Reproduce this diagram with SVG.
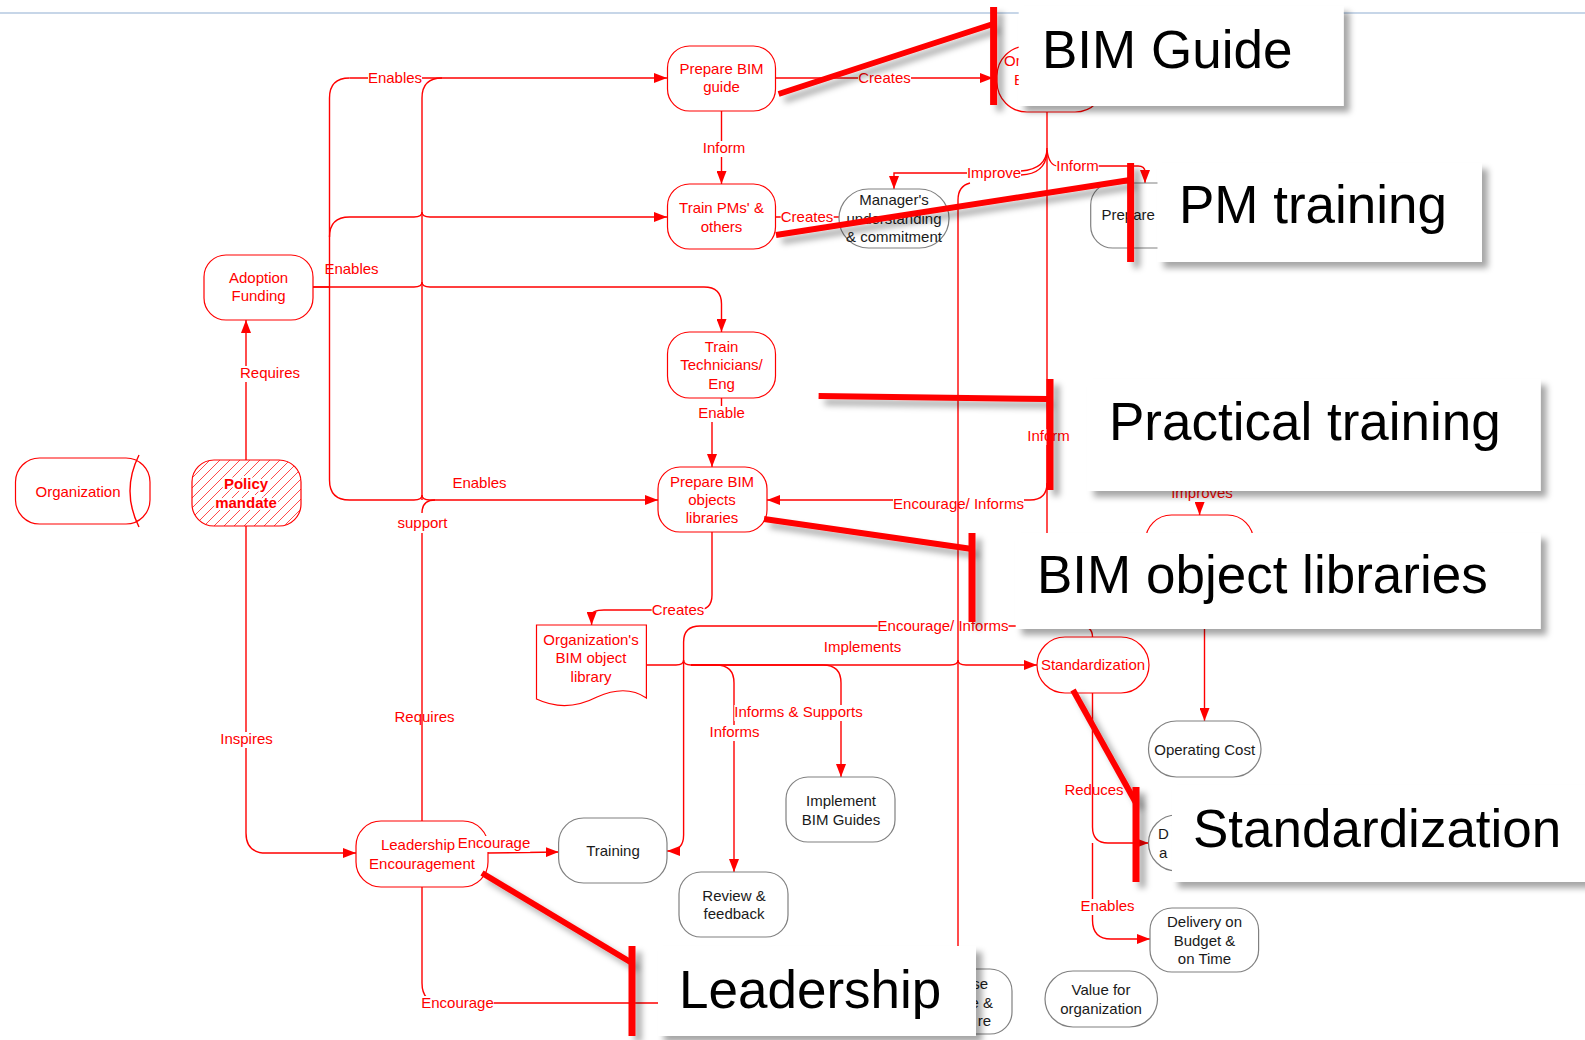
<svg xmlns="http://www.w3.org/2000/svg" width="1585" height="1040" viewBox="0 0 1585 1040">
<defs>
<style>
.c{fill:none;stroke:#f00;stroke-width:1.4}
.n{fill:#fff;stroke:#f00;stroke-width:1.2}
.g{fill:#fff;stroke:#808080;stroke-width:1.2}
.t{font-family:"Liberation Sans",Arial,sans-serif;font-size:15px;fill:#f00;text-anchor:middle}
.k{fill:#1a1a1a}
.s{text-anchor:start}
.e{text-anchor:end}
.lbg{fill:#fff;stroke:none}
.rl{stroke:#f00;stroke-width:6;fill:none}
.rb{stroke:#f00;stroke-width:7;fill:none}
.box{fill:#fff}
.ct{font-family:"Liberation Sans",Arial,sans-serif;font-size:53px;fill:#000}
.sh{filter:url(#sh)}
</style>
<filter id="sh" filterUnits="userSpaceOnUse" x="0" y="0" width="1585" height="1040"><feDropShadow dx="6" dy="6" stdDeviation="3" flood-color="#000" flood-opacity="0.35"/></filter>
<marker id="ar" viewBox="0 0 13 10" refX="13" refY="5" markerWidth="13" markerHeight="10" markerUnits="userSpaceOnUse" orient="auto"><path d="M0,0 L13,5 L0,10 z" fill="#f00"/></marker>
<pattern id="hatch" patternUnits="userSpaceOnUse" width="10" height="10"><path d="M-2,2 L2,-2 M0,10 L10,0 M8,12 L12,8" stroke="#ff4a4a" stroke-width="1"/></pattern>
</defs>
<rect width="1585" height="1040" fill="#fff"/>
<line x1="0" y1="13" x2="1585" y2="13" stroke="#b4c8e0" stroke-width="1.5"/>

<g id="connectors">
<path class="c" d="M313,287 H329.5"/>
<path class="c" d="M349.5,78 H667" marker-end="url(#ar)"/>
<path class="c" d="M422,500 V98 Q422,78 442,78"/>
<path class="c" d="M329.5,237 Q329.5,217 349.5,217 H414 Q422,217 422,212 Q422,217 430,217 H667" marker-end="url(#ar)"/>
<path class="c" d="M313,287 H414 Q422,287 422,282 Q422,287 430,287 H704 Q721.5,287 721.5,304 V332" marker-end="url(#ar)"/>
<path class="c" d="M329.5,480 Q329.5,500 349.5,500 H414 Q422,500 422,495 Q422,500 430,500 H658" marker-end="url(#ar)"/>
<path class="c" d="M422,513 Q422,500 435,500"/>
<path class="c" d="M246,460 V320" marker-end="url(#ar)"/>
<path class="c" d="M246,526 V833 Q246,853 266,853 H356" marker-end="url(#ar)"/>
<path class="c" d="M775.7,78 H993" marker-end="url(#ar)"/>
<path class="c" d="M721.5,111 V184" marker-end="url(#ar)"/>
<path class="c" d="M775.7,217 H839"/>
<path class="c" d="M721.5,398 V413 H712 V467" marker-end="url(#ar)"/>
<path class="c" d="M1047,112 V620"/>
<path class="c" d="M1047,483 Q1047,500 1030,500 H767" marker-end="url(#ar)"/>
<path class="c" d="M712,532 V595 Q712,610 697,610 H604 Q591.6,610 591.6,616 V625" marker-end="url(#ar)"/>
<path class="c" d="M646.4,665 H676 Q683.6,665 683.6,660 Q683.6,665 691,665 H950 Q958,665 958,660 Q958,665 966,665 H1037" marker-end="url(#ar)"/>
<path class="c" d="M691,665 H716 Q734,665 734,683 V872" marker-end="url(#ar)"/>
<path class="c" d="M691,665 H823 Q841,665 841,683 V777" marker-end="url(#ar)"/>
<path class="c" d="M1092.5,637 Q1092.5,626 1080,626 H700 Q683.6,626 683.6,642 V835 Q683.6,851 668,851 H667" marker-end="url(#ar)"/>
<path class="c" d="M488,853 L558.6,852" marker-end="url(#ar)"/>
<path class="c" d="M422,887 V983 Q422,1003 442,1003 H905" marker-end="url(#ar)"/>
<path class="c" d="M967,173 H894 V189" marker-end="url(#ar)"/>
<path class="c" d="M1047,148 Q1047,169 1021,171"/>
<path class="c" d="M1047,153 Q1045,174 1021,175"/>
<path class="c" d="M1047,150 Q1049,166 1058,166 H1138 Q1145,166 1145,172 V183" marker-end="url(#ar)"/>
<path class="c" d="M1199.6,480 V515" marker-end="url(#ar)"/>
<path class="c" d="M1204.5,580 V721" marker-end="url(#ar)"/>
<path class="c" d="M1092.5,693 V827 Q1092.5,843 1108,843 H1148.5" marker-end="url(#ar)"/>
<path class="c" d="M1092.5,843 V920 Q1092.5,939 1111,939 H1150" marker-end="url(#ar)"/>
</g>

<g id="organization"><rect class="n" x="15.5" y="458" width="134.5" height="66" rx="24"/><path class="c" d="M139,455 Q121,491 139,527" stroke-width="1.1"/><text class="t" x="78" y="497">Organization</text></g>
<g id="policy-mandate"><rect x="192" y="460" width="109" height="66" rx="22" fill="url(#hatch)" stroke="#f00" stroke-width="1.2"/><text class="t" x="246" y="489" font-weight="bold" stroke="#fff" stroke-width="4" paint-order="stroke">Policy</text><text class="t" x="246" y="508" font-weight="bold" stroke="#fff" stroke-width="4" paint-order="stroke">mandate</text></g>
<g id="adoption-funding"><rect class="n" x="204" y="255" width="109" height="65" rx="22"/><text class="t" x="258.6" y="283">Adoption</text><text class="t" x="258.6" y="301">Funding</text></g>
<g id="prepare-bim-guide"><rect class="n" x="667.5" y="46" width="108" height="65" rx="22"/><text class="t" x="721.5" y="74">Prepare BIM</text><text class="t" x="721.5" y="92">guide</text></g>
<g id="train-pms"><rect class="n" x="667.5" y="184" width="108" height="65" rx="22"/><text class="t" x="721.5" y="213">Train PMs' &amp;</text><text class="t" x="721.5" y="232">others</text></g>
<g id="train-technicians"><rect class="n" x="667.5" y="332" width="108" height="66" rx="22"/><text class="t" x="721.5" y="352">Train</text><text class="t" x="721.5" y="370">Technicians/</text><text class="t" x="721.5" y="389">Eng</text></g>
<g id="prepare-bim-objects"><rect class="n" x="658" y="467" width="109" height="65" rx="22"/><text class="t" x="712" y="487">Prepare BIM</text><text class="t" x="712" y="505">objects</text><text class="t" x="712" y="523">libraries</text></g>
<g id="org-bim-object-library"><path class="n" d="M536.5,625 H646.4 V698 Q626,684 597,697 Q566,713 536.5,699 Z"/><text class="t" x="591" y="645">Organization's</text><text class="t" x="591" y="663">BIM object</text><text class="t" x="591" y="682">library</text></g>
<g id="managers-understanding"><rect class="g" x="839" y="189" width="110" height="59" rx="29.5"/><text class="t k" x="894" y="205">Manager's</text><text class="t k" x="894" y="224">understanding</text><text class="t k" x="894" y="242">&amp; commitment</text></g>
<g id="org-bim-guide"><rect class="n" x="997" y="46" width="108" height="66" rx="30"/><text class="t s" x="1004" y="66">Or</text><text class="t s" x="1014" y="85">B</text></g>
<g id="prepare-node"><rect class="g" x="1090.7" y="183" width="108" height="65" rx="22"/><text class="t k s" x="1101.5" y="220">Prepare</text></g>
<g id="improves-target"><rect class="n" x="1145.5" y="515" width="108" height="65" rx="26"/></g>
<g id="standardization"><rect class="n" x="1037" y="637" width="112" height="56" rx="28"/><text class="t" x="1093" y="670">Standardization</text></g>
<g id="operating-cost"><rect class="g" x="1148.5" y="721" width="112.5" height="56" rx="28"/><text class="t k" x="1204.7" y="755">Operating Cost</text></g>
<g id="d-node"><rect class="g" x="1148.5" y="815" width="108" height="56" rx="28"/><text class="t k s" x="1158" y="839">D</text><text class="t k s" x="1159" y="858">a</text></g>
<g id="delivery"><rect class="g" x="1150" y="908" width="108.6" height="64" rx="22"/><text class="t k" x="1204.5" y="927">Delivery on</text><text class="t k" x="1204.5" y="946">Budget &amp;</text><text class="t k" x="1204.5" y="964">on Time</text></g>
<g id="value-for-organization"><rect class="g" x="1045" y="971" width="112.5" height="56" rx="28"/><text class="t k" x="1101" y="995">Value for</text><text class="t k" x="1101" y="1014">organization</text></g>
<g id="bottom-node"><rect class="g" x="905" y="969" width="107" height="65" rx="22"/><text class="t k e" x="988" y="989">se</text><text class="t k e" x="993" y="1008">e &amp;</text><text class="t k e" x="991" y="1026">re</text></g>
<g id="leadership-encouragement"><rect class="n" x="356" y="821" width="132" height="66" rx="25"/><text class="t" x="418" y="850">Leadership</text><text class="t" x="422" y="869">Encouragement</text></g>
<g id="training"><rect class="g" x="558.6" y="818" width="108.4" height="65" rx="25"/><text class="t k" x="613" y="856">Training</text></g>
<g id="implement-bim-guides"><rect class="g" x="786" y="777" width="109" height="65" rx="22"/><text class="t k" x="841" y="806">Implement</text><text class="t k" x="841" y="825">BIM Guides</text></g>
<g id="review-feedback"><rect class="g" x="679" y="872" width="109" height="65" rx="22"/><text class="t k" x="734" y="901">Review &amp;</text><text class="t k" x="734" y="919">feedback</text></g>

<g id="connector-labels">
<rect class="lbg" x="368" y="71" width="54" height="16"/><text class="t" x="395" y="83">Enables</text>
<text class="t" x="351.5" y="274">Enables</text>
<text class="t" x="479.5" y="488">Enables</text>
<rect class="lbg" x="397.5" y="516" width="50" height="16"/><text class="t" x="422.5" y="528">support</text>
<rect class="lbg" x="240" y="366" width="60" height="16"/><text class="t" x="270" y="378">Requires</text>
<rect class="lbg" x="220" y="732" width="53" height="16"/><text class="t" x="246.5" y="744">Inspires</text>
<text class="t" x="424.5" y="722">Requires</text>
<rect class="lbg" x="858" y="71" width="53" height="16"/><text class="t" x="884.5" y="83">Creates</text>
<rect class="lbg" x="702.7" y="141" width="42.5" height="16"/><text class="t" x="724" y="153">Inform</text>
<rect class="lbg" x="780.7" y="210" width="53" height="16"/><text class="t" x="807" y="222">Creates</text>
<rect class="lbg" x="698" y="406" width="47" height="16"/><text class="t" x="721.5" y="418">Enable</text>
<rect class="lbg" x="893" y="497" width="131" height="16"/><text class="t" x="958.5" y="509">Encourage/ Informs</text>
<rect class="lbg" x="651.7" y="603" width="53" height="16"/><text class="t" x="678" y="615">Creates</text>
<text class="t" x="862.5" y="652">Implements</text>
<rect class="lbg" x="734.3" y="705" width="128.4" height="16"/><text class="t" x="798.5" y="717">Informs &amp; Supports</text>
<rect class="lbg" x="709.5" y="725" width="50" height="16"/><text class="t" x="734.5" y="737">Informs</text>
<rect class="lbg" x="877.5" y="619" width="131" height="16"/><text class="t" x="943" y="631">Encourage/ Informs</text>
<rect class="lbg" x="457.7" y="836" width="72.5" height="16"/><text class="t" x="494" y="848">Encourage</text>
<rect class="lbg" x="421.2" y="996" width="72.5" height="16"/><text class="t" x="457.5" y="1008">Encourage</text>
<rect class="lbg" x="967" y="166" width="54" height="16"/><text class="t" x="994" y="178">Improve</text>
<rect class="lbg" x="1056.2" y="159" width="42.5" height="16"/><text class="t" x="1077.5" y="171">Inform</text>
<rect class="lbg" x="1027.2" y="429" width="42.5" height="16"/><text class="t" x="1048.5" y="441">Inform</text>
<rect class="lbg" x="1171" y="486" width="62" height="16"/><text class="t" x="1202" y="498">Improves</text>
<text class="t" x="1094" y="795">Reduces</text>
<rect class="lbg" x="1080.4" y="899" width="54" height="16"/><text class="t" x="1107.5" y="911">Enables</text>
</g>

<g id="connectors-over">
<path class="c" d="M329.5,480 V98 Q329.5,78 349.5,78"/>
<path class="c" d="M422,821 V533"/>
<path class="c" d="M958,969 V200 Q958,186 970,183"/>
</g>

<g id="callout-bim-guide">
<line class="rl sh" x1="778.6" y1="94" x2="993" y2="24"/>
<line class="rb sh" x1="993.6" y1="7" x2="993.6" y2="105"/>
<rect class="box sh" x="1018.7" y="6" width="325" height="100"/>
<text class="ct" x="1042" y="68">BIM Guide</text>
</g>
<g id="callout-pm-training">
<line class="rl sh" x1="776" y1="235" x2="1130" y2="180"/>
<line class="rb sh" x1="1130.6" y1="163" x2="1130.6" y2="262"/>
<rect class="box sh" x="1157.5" y="163" width="324.5" height="99"/>
<text class="ct" x="1179" y="223">PM training</text>
</g>
<g id="callout-practical-training">
<line class="rl sh" x1="818.6" y1="396" x2="1047" y2="399"/>
<line class="rb sh" x1="1050" y1="379" x2="1050" y2="490"/>
<rect class="box sh" x="1087.7" y="379" width="453" height="112"/>
<text class="ct" x="1109" y="440">Practical training</text>
</g>
<g id="callout-bim-object-libraries">
<line class="rl sh" x1="764" y1="519" x2="972" y2="549"/>
<line class="rb sh" x1="972" y1="533" x2="972" y2="622"/>
<rect class="box sh" x="1015.7" y="533" width="525" height="96"/>
<text class="ct" x="1037" y="593">BIM object libraries</text>
</g>
<g id="callout-standardization">
<line class="rl sh" x1="1073" y1="690" x2="1136" y2="803"/>
<line class="rb sh" x1="1136" y1="787" x2="1136" y2="882"/>
<rect class="box sh" x="1172" y="785" width="430" height="97"/>
<text class="ct" x="1193" y="847">Standardization</text>
</g>
<g id="callout-leadership">
<line class="rl sh" x1="482" y1="873" x2="632" y2="963"/>
<line class="rb sh" x1="632" y1="946" x2="632" y2="1036"/>
<rect class="box sh" x="658" y="946" width="318" height="90"/>
<text class="ct" x="679" y="1008">Leadership</text>
</g>
</svg>
